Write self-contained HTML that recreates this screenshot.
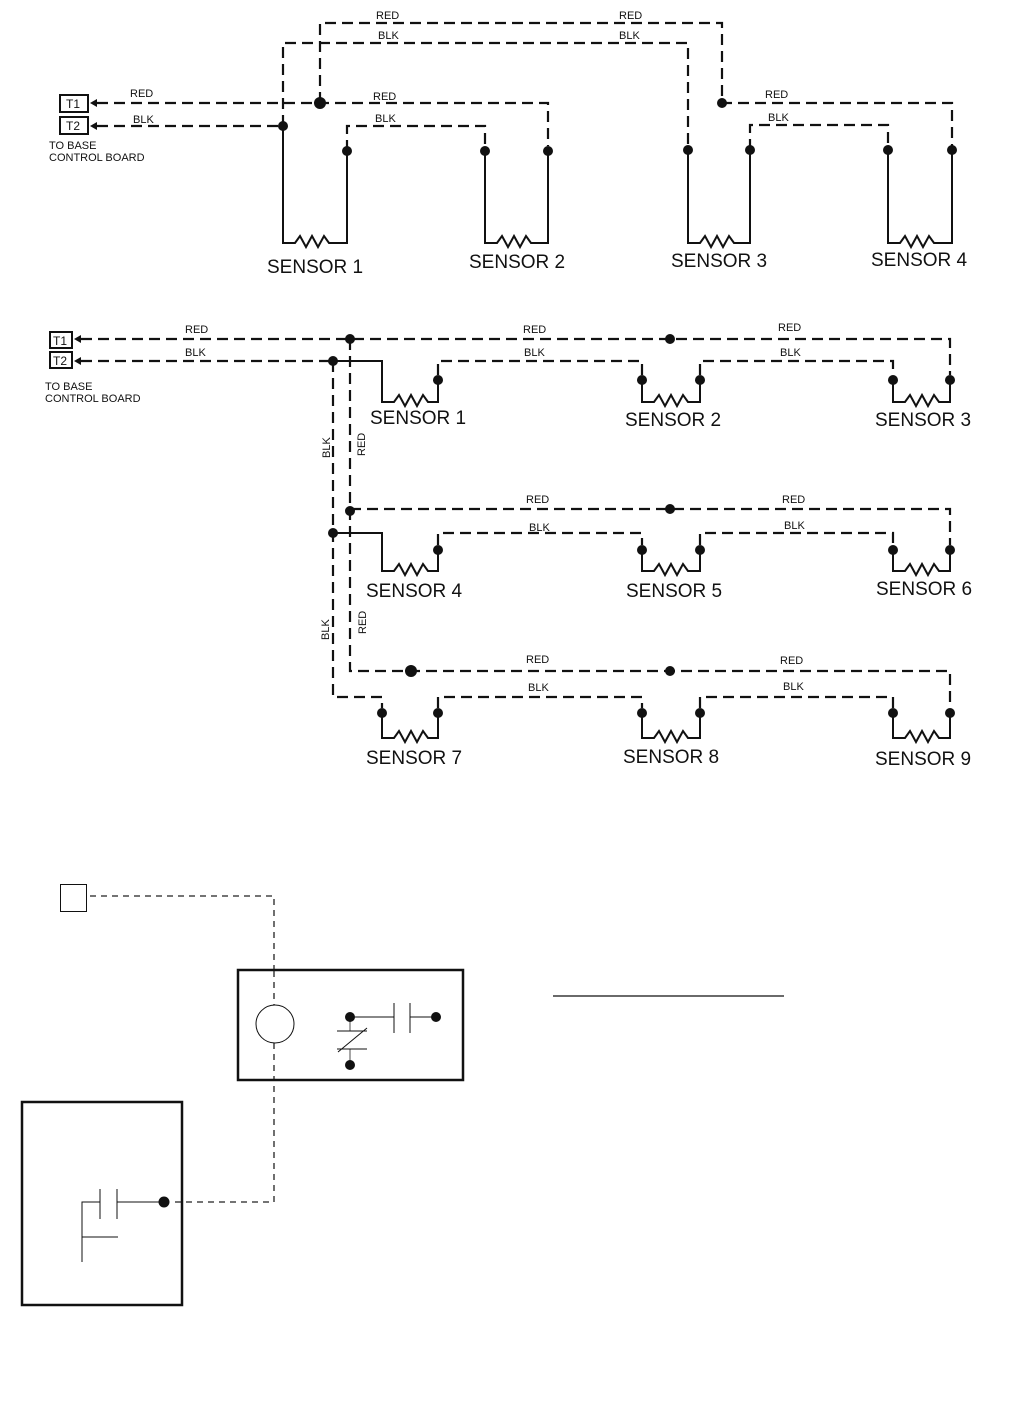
<!DOCTYPE html>
<html><head><meta charset="utf-8"><style>
html,body{margin:0;padding:0;background:#fff}
svg{display:block}
text{font-family:"Liberation Sans",Arial,sans-serif;fill:#111}
.d{fill:none;stroke:#111;stroke-width:2.2;stroke-dasharray:11 6}
.s{fill:none;stroke:#111;stroke-width:2}
.w{font-size:11px}
.L{font-size:19px}
</style></head><body>
<svg width="1036" height="1412" viewBox="0 0 1036 1412" xmlns="http://www.w3.org/2000/svg">
<!-- ===== TOP DIAGRAM ===== -->
<rect x="60" y="95" width="28" height="17" class="s" stroke-width="1.5"/>
<text x="66" y="108" style="font-size:12px">T1</text>
<rect x="60" y="117" width="28" height="17" class="s" stroke-width="1.5"/>
<text x="66" y="130" style="font-size:12px">T2</text>
<polygon points="90,103 97,99 97,107" fill="#111"/>
<polygon points="90,126 97,122 97,130" fill="#111"/>
<text x="49" y="149" class="w">TO BASE</text>
<text x="49" y="161" class="w">CONTROL BOARD</text>
<path class="d" d="M97,103 H548 V146"/>
<path class="d" d="M320,103 V23 H722 V103 H952 V146"/>
<path class="d" d="M283,126 V43 H688 V146"/>
<path class="d" d="M97,126 H283"/>
<path class="d" d="M347,151 V126 H485 V151"/>
<path class="d" d="M750,150 V125 H888 V150"/>
<circle cx="320" cy="103" r="6" fill="#111"/>
<circle cx="722" cy="103" r="5" fill="#111"/>
<circle cx="283" cy="126" r="5" fill="#111"/>
<path class="s" d="M283,126 V243 H295 l5,-7 l6,11 l6,-11 l6,11 l6,-11 l5,7 H347 V151"/>
<path class="s" d="M485,151 V243 H497 l5,-7 l6,11 l6,-11 l6,11 l6,-11 l5,7 H548 V151"/>
<path class="s" d="M688,150 V243 H700 l5,-7 l6,11 l6,-11 l6,11 l6,-11 l5,7 H750 V150"/>
<path class="s" d="M888,150 V243 H900 l5,-7 l6,11 l6,-11 l6,11 l6,-11 l5,7 H952 V150"/>
<g fill="#111">
<circle cx="347" cy="151" r="5"/><circle cx="485" cy="151" r="5"/><circle cx="548" cy="151" r="5"/>
<circle cx="688" cy="150" r="5"/><circle cx="750" cy="150" r="5"/><circle cx="888" cy="150" r="5"/><circle cx="952" cy="150" r="5"/>
</g>
<text x="130" y="97" class="w">RED</text>
<text x="133" y="123" class="w">BLK</text>
<text x="376" y="19" class="w">RED</text>
<text x="619" y="19" class="w">RED</text>
<text x="378" y="39" class="w">BLK</text>
<text x="619" y="39" class="w">BLK</text>
<text x="373" y="100" class="w">RED</text>
<text x="375" y="122" class="w">BLK</text>
<text x="765" y="98" class="w">RED</text>
<text x="768" y="121" class="w">BLK</text>
<text x="267" y="273" class="L">SENSOR 1</text>
<text x="469" y="268" class="L">SENSOR 2</text>
<text x="671" y="267" class="L">SENSOR 3</text>
<text x="871" y="266" class="L">SENSOR 4</text>

<!-- ===== MIDDLE DIAGRAM ===== -->
<rect x="50" y="332" width="22" height="16" class="s" stroke-width="1.5"/>
<text x="53" y="345" style="font-size:12px">T1</text>
<rect x="50" y="352" width="22" height="16" class="s" stroke-width="1.5"/>
<text x="53" y="365" style="font-size:12px">T2</text>
<polygon points="74,339 81,335 81,343" fill="#111"/>
<polygon points="74,361 81,357 81,365" fill="#111"/>
<text x="45" y="390" class="w">TO BASE</text>
<text x="45" y="402" class="w">CONTROL BOARD</text>
<path class="d" d="M81,339 H950 V375"/>
<path class="d" d="M81,361 H333"/>
<path class="d" d="M350,339 V671 H950 V708"/>
<path class="d" d="M333,361 V697 H382 V708"/>
<path class="d" d="M350,509 H950 V545"/>
<path class="s" d="M333,361 H382 V402 H394 l5,-7 l6,11 l6,-11 l6,11 l6,-11 l5,7 H438 V380"/>
<path class="d" d="M438,375 V361 H642 V375"/>
<path class="s" d="M642,380 V402 H654 l5,-7 l6,11 l6,-11 l6,11 l6,-11 l5,7 H700 V380"/>
<path class="d" d="M700,375 V361 H893 V375"/>
<path class="s" d="M893,380 V402 H905 l5,-7 l6,11 l6,-11 l6,11 l6,-11 l5,7 H950 V380"/>
<path class="s" d="M333,533 H382 V571 H394 l5,-7 l6,11 l6,-11 l6,11 l6,-11 l5,7 H438 V550"/>
<path class="d" d="M438,545 V533 H642 V545"/>
<path class="s" d="M642,550 V571 H654 l5,-7 l6,11 l6,-11 l6,11 l6,-11 l5,7 H700 V550"/>
<path class="d" d="M700,545 V533 H893 V545"/>
<path class="s" d="M893,550 V571 H905 l5,-7 l6,11 l6,-11 l6,11 l6,-11 l5,7 H950 V550"/>
<path class="s" d="M382,713 V738 H394 l5,-7 l6,11 l6,-11 l6,11 l6,-11 l5,7 H438 V713"/>
<path class="d" d="M438,708 V697 H642 V708"/>
<path class="s" d="M642,713 V738 H654 l5,-7 l6,11 l6,-11 l6,11 l6,-11 l5,7 H700 V713"/>
<path class="d" d="M700,708 V697 H893 V708"/>
<path class="s" d="M893,713 V738 H905 l5,-7 l6,11 l6,-11 l6,11 l6,-11 l5,7 H950 V713"/>
<g fill="#111">
<circle cx="350" cy="339" r="5"/><circle cx="670" cy="339" r="5"/><circle cx="333" cy="361" r="5"/>
<circle cx="438" cy="380" r="5"/><circle cx="642" cy="380" r="5"/><circle cx="700" cy="380" r="5"/><circle cx="893" cy="380" r="5"/><circle cx="950" cy="380" r="5"/>
<circle cx="350" cy="511" r="5"/><circle cx="670" cy="509" r="5"/><circle cx="333" cy="533" r="5"/>
<circle cx="438" cy="550" r="5"/><circle cx="642" cy="550" r="5"/><circle cx="700" cy="550" r="5"/><circle cx="893" cy="550" r="5"/><circle cx="950" cy="550" r="5"/>
<circle cx="411" cy="671" r="6"/><circle cx="670" cy="671" r="5"/>
<circle cx="382" cy="713" r="5"/><circle cx="438" cy="713" r="5"/><circle cx="642" cy="713" r="5"/><circle cx="700" cy="713" r="5"/><circle cx="893" cy="713" r="5"/><circle cx="950" cy="713" r="5"/>
</g>
<text x="185" y="333" class="w">RED</text>
<text x="185" y="356" class="w">BLK</text>
<text x="523" y="333" class="w">RED</text>
<text x="524" y="356" class="w">BLK</text>
<text x="778" y="331" class="w">RED</text>
<text x="780" y="356" class="w">BLK</text>
<text x="526" y="503" class="w">RED</text>
<text x="529" y="531" class="w">BLK</text>
<text x="782" y="503" class="w">RED</text>
<text x="784" y="529" class="w">BLK</text>
<text x="526" y="663" class="w">RED</text>
<text x="528" y="691" class="w">BLK</text>
<text x="780" y="664" class="w">RED</text>
<text x="783" y="690" class="w">BLK</text>
<text transform="translate(330,458) rotate(-90)" class="w">BLK</text>
<text transform="translate(365,456) rotate(-90)" class="w">RED</text>
<text transform="translate(329,640) rotate(-90)" class="w">BLK</text>
<text transform="translate(366,634) rotate(-90)" class="w">RED</text>
<text x="370" y="424" class="L">SENSOR 1</text>
<text x="625" y="426" class="L">SENSOR 2</text>
<text x="875" y="426" class="L">SENSOR 3</text>
<text x="366" y="597" class="L">SENSOR 4</text>
<text x="626" y="597" class="L">SENSOR 5</text>
<text x="876" y="595" class="L">SENSOR 6</text>
<text x="366" y="764" class="L">SENSOR 7</text>
<text x="623" y="763" class="L">SENSOR 8</text>
<text x="875" y="765" class="L">SENSOR 9</text>

<!-- ===== BOTTOM DIAGRAM ===== -->
<rect x="60.5" y="884.5" width="26" height="27" fill="none" stroke="#111" stroke-width="1"/>
<path d="M90,896 H274 V1202 H172" fill="none" stroke="#222" stroke-width="1.3" stroke-dasharray="6 5"/>
<rect x="238" y="970" width="225" height="110" fill="#fff" stroke="#111" stroke-width="2.5"/>
<path d="M274,971 V1005 M274,1043 V1079" fill="none" stroke="#222" stroke-width="1.3" stroke-dasharray="6 5"/>
<circle cx="275" cy="1024" r="19" fill="#fff" stroke="#111" stroke-width="1"/>
<path d="M350,1017 H394 M394,1003 V1033 M410,1003 V1033 M410,1017 H436" stroke="#111" stroke-width="1" fill="none"/>
<path d="M350,1017 V1031 M350,1049 V1065" stroke="#888" stroke-width="1.5" fill="none"/>
<path d="M337,1031 H367 M337,1049 H367 M338,1052 L367,1028" stroke="#111" stroke-width="1" fill="none"/>
<circle cx="350" cy="1017" r="5" fill="#111"/>
<circle cx="436" cy="1017" r="5" fill="#111"/>
<circle cx="350" cy="1065" r="5" fill="#111"/>
<line x1="553" y1="996" x2="784" y2="996" stroke="#111" stroke-width="1.2"/>
<rect x="22" y="1102" width="160" height="203" fill="none" stroke="#111" stroke-width="2.5"/>
<path d="M82,1262 V1202 H100 M100,1189 V1219 M117,1189 V1219 M117,1202 H164 M82,1237 H118" stroke="#111" stroke-width="1" fill="none"/>
<circle cx="164" cy="1202" r="5.5" fill="#111"/>
</svg>
</body></html>
